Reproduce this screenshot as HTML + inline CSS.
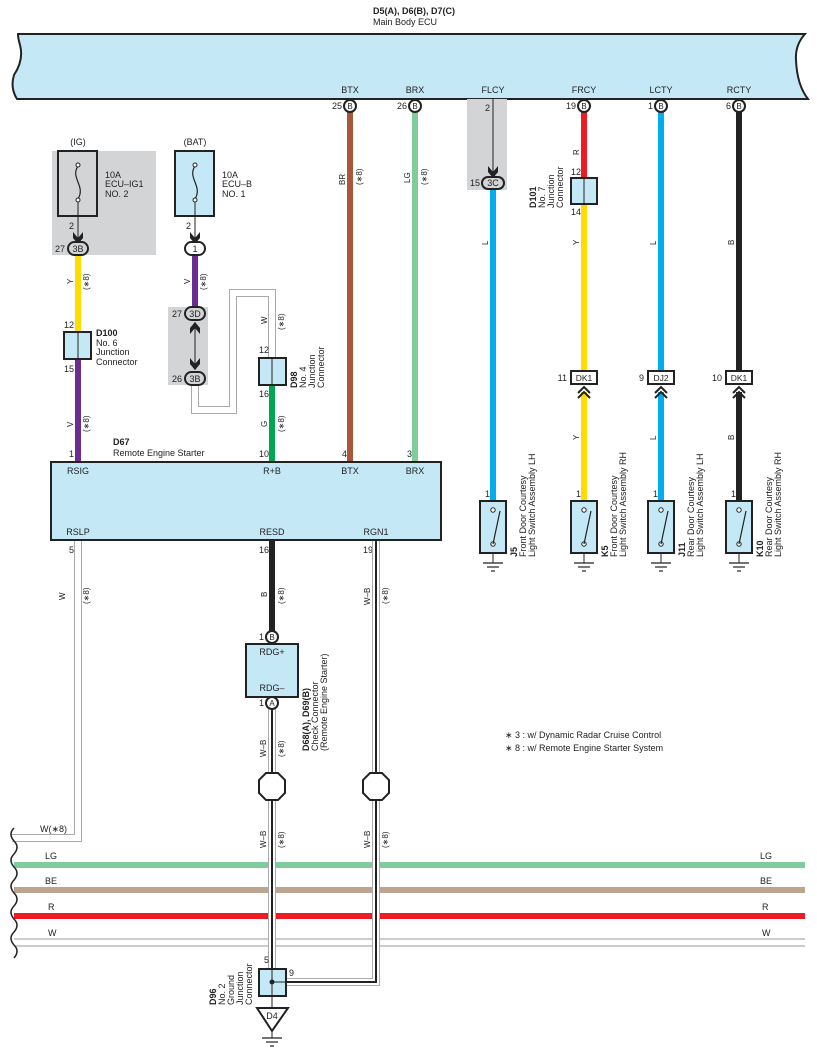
<!DOCTYPE html>
<html><head><meta charset="utf-8"><style>
html,body{margin:0;padding:0;background:#fff}
svg{display:block;font-family:"Liberation Sans",sans-serif}
text{font-size:9px;fill:#222}
.b{font-weight:bold}
</style></head><body>
<svg width="817" height="1061" viewBox="0 0 817 1061" xmlns="http://www.w3.org/2000/svg">
<defs>
<g id="gnd"><line x1="-10" y1="0" x2="10" y2="0" stroke="#222" stroke-width="1.2"/><line x1="-6" y1="4" x2="6" y2="4" stroke="#222" stroke-width="1.2"/><line x1="-2" y1="8" x2="2" y2="8" stroke="#222" stroke-width="1.2"/></g>
<g id="sw"><rect x="-13" y="0" width="26" height="52" fill="#c5e8f7" stroke="#222" stroke-width="2"/><circle cx="0" cy="9" r="2.2" fill="#fff" stroke="#222"/><circle cx="0" cy="43" r="2.2" fill="#fff" stroke="#222"/><line x1="0" y1="43" x2="7" y2="10" stroke="#222" stroke-width="1.2"/><line x1="0" y1="52" x2="0" y2="62" stroke="#222"/><use href="#gnd" y="62"/></g>
<g id="chev"><path d="M-6,6 L0,0 L6,6 M-6,11 L0,5 L6,11" fill="none" stroke="#222" stroke-width="2"/></g>
</defs>

<text x="373" y="14" class="b">D5(A), D6(B), D7(C)</text>
<text x="373" y="25">Main Body ECU</text>
<path d="M18,34 L805,34 Q795,45 796,60 Q797,85 808,99 L17,99 Q10,88 14,75 Q24,60 20,45 Q18,38 18,34 Z" fill="#c5e8f7" stroke="#222" stroke-width="2"/>
<g text-anchor="middle">
<text x="350" y="93">BTX</text><text x="415" y="93">BRX</text><text x="493" y="93">FLCY</text><text x="584" y="93">FRCY</text><text x="661" y="93">LCTY</text><text x="739" y="93">RCTY</text>
</g>

<rect x="52" y="151" width="104" height="104" fill="#d3d4d6"/>
<rect x="168" y="307" width="40" height="78" fill="#d3d4d6"/>
<rect x="467" y="99" width="40" height="91" fill="#d3d4d6"/>

<line x1="350" y1="106" x2="350" y2="462" stroke="#a9573a" stroke-width="6"/>
<line x1="415" y1="106" x2="415" y2="462" stroke="#80cc9c" stroke-width="6"/>
<line x1="493" y1="190" x2="493" y2="501" stroke="#00aeef" stroke-width="6"/>
<line x1="584" y1="106" x2="584" y2="178" stroke="#ed1c24" stroke-width="6"/>
<line x1="584" y1="204" x2="584" y2="371" stroke="#ffdd00" stroke-width="6"/>
<line x1="584" y1="392" x2="584" y2="501" stroke="#ffdd00" stroke-width="6"/>
<line x1="661" y1="106" x2="661" y2="371" stroke="#00aeef" stroke-width="6"/>
<line x1="661" y1="392" x2="661" y2="501" stroke="#00aeef" stroke-width="6"/>
<line x1="739" y1="106" x2="739" y2="371" stroke="#222" stroke-width="6"/>
<line x1="739" y1="392" x2="739" y2="501" stroke="#222" stroke-width="6"/>
<line x1="78" y1="255" x2="78" y2="332" stroke="#ffdd00" stroke-width="6"/>
<line x1="78" y1="359" x2="78" y2="462" stroke="#6d2c91" stroke-width="6"/>
<line x1="195" y1="255" x2="195" y2="307" stroke="#6d2c91" stroke-width="6"/>
<line x1="272" y1="385" x2="272" y2="462" stroke="#00a651" stroke-width="6"/>
<path d="M195,384 L195,410 L233,410 L233,293 L272,293 L272,358" fill="none" stroke="#aaa" stroke-width="8"/>
<path d="M195,384 L195,410 L233,410 L233,293 L272,293 L272,358" fill="none" stroke="#fff" stroke-width="6"/>

<g stroke="#222" stroke-width="2" fill="#fff">
<circle cx="350" cy="106" r="6"/><circle cx="415" cy="106" r="6"/><circle cx="584" cy="106" r="6"/><circle cx="661" cy="106" r="6"/><circle cx="739" cy="106" r="6"/>
</g>
<g text-anchor="middle">
<text x="350" y="109" style="font-size:8px">B</text><text x="415" y="109" style="font-size:8px">B</text><text x="584" y="109" style="font-size:8px">B</text><text x="661" y="109" style="font-size:8px">B</text><text x="739" y="109" style="font-size:8px">B</text>
</g>
<g text-anchor="end"><text x="342" y="109">25</text><text x="407" y="109">26</text><text x="576" y="109">19</text><text x="653" y="109">1</text><text x="731" y="109">6</text><text x="490" y="111">2</text></g>

<line x1="493" y1="99" x2="493" y2="172" stroke="#222"/>
<path d="M488,166 L493,172 L498,166 L498,172 L493,178 L488,172Z" fill="#222"/>
<rect x="482" y="177" width="22" height="12" rx="6" fill="#d3d4d6" stroke="#222" stroke-width="2"/>
<text x="493" y="186" text-anchor="middle">3C</text><text x="480" y="186" text-anchor="end">15</text>

<rect x="571" y="178" width="26" height="26" fill="#c5e8f7" stroke="#222" stroke-width="2"/><line x1="584" y1="178" x2="584" y2="204" stroke="#222"/>
<text x="581" y="175" text-anchor="end">12</text><text x="581" y="215" text-anchor="end">14</text>
<g transform="translate(536,208) rotate(-90)"><text x="0" y="0" class="b">D101</text><text x="0" y="9">No. 7</text><text x="0" y="18">Junction</text><text x="0" y="27">Connector</text></g>

<g stroke="#222" stroke-width="2" fill="#fff">
<rect x="571" y="371" width="26" height="13"/><rect x="648" y="371" width="26" height="13"/><rect x="726" y="371" width="26" height="13"/>
</g>
<g text-anchor="middle" style="font-size:8.5px"><text x="584" y="381" style="font-size:8.5px">DK1</text><text x="661" y="381" style="font-size:8.5px">DJ2</text><text x="739" y="381" style="font-size:8.5px">DK1</text></g>
<g text-anchor="end"><text x="567" y="381">11</text><text x="644" y="381">9</text><text x="722" y="381">10</text></g>
<use href="#chev" x="584" y="387"/><use href="#chev" x="661" y="387"/><use href="#chev" x="739" y="387"/>

<use href="#sw" x="493" y="501"/><use href="#sw" x="584" y="501"/><use href="#sw" x="661" y="501"/><use href="#sw" x="739" y="501"/>
<g text-anchor="end"><text x="490" y="497">1</text><text x="581" y="497">1</text><text x="658" y="497">1</text><text x="736" y="497">1</text></g>
<g transform="translate(517,557) rotate(-90)"><text class="b">J5</text><text y="9">Front Door Courtesy</text><text y="18">Light Switch Assembly LH</text></g>
<g transform="translate(608,557) rotate(-90)"><text class="b">K5</text><text y="9">Front Door Courtesy</text><text y="18">Light Switch Assembly RH</text></g>
<g transform="translate(685,557) rotate(-90)"><text class="b">J11</text><text y="9">Rear Door Courtesy</text><text y="18">Light Switch Assembly LH</text></g>
<g transform="translate(763,557) rotate(-90)"><text class="b">K10</text><text y="9">Rear Door Courtesy</text><text y="18">Light Switch Assembly RH</text></g>

<g>
<g transform="translate(345,185) rotate(-90)"><text style="font-size:8px">BR</text></g><g transform="translate(362,185) rotate(-90)"><text style="font-size:8px">(∗8)</text></g>
<g transform="translate(410,183) rotate(-90)"><text style="font-size:8px">LG</text></g><g transform="translate(427,185) rotate(-90)"><text style="font-size:8px">(∗8)</text></g>
<g transform="translate(488,245) rotate(-90)"><text style="font-size:8px">L</text></g>
<g transform="translate(579,155) rotate(-90)"><text style="font-size:8px">R</text></g>
<g transform="translate(579,245) rotate(-90)"><text style="font-size:8px">Y</text></g><g transform="translate(579,440) rotate(-90)"><text style="font-size:8px">Y</text></g>
<g transform="translate(656,245) rotate(-90)"><text style="font-size:8px">L</text></g><g transform="translate(656,440) rotate(-90)"><text style="font-size:8px">L</text></g>
<g transform="translate(734,245) rotate(-90)"><text style="font-size:8px">B</text></g><g transform="translate(734,440) rotate(-90)"><text style="font-size:8px">B</text></g>
<g transform="translate(73,284) rotate(-90)"><text style="font-size:8px">Y</text></g><g transform="translate(89,290) rotate(-90)"><text style="font-size:8px">(∗8)</text></g>
<g transform="translate(73,427) rotate(-90)"><text style="font-size:8px">V</text></g><g transform="translate(89,432) rotate(-90)"><text style="font-size:8px">(∗8)</text></g>
<g transform="translate(190,284) rotate(-90)"><text style="font-size:8px">V</text></g><g transform="translate(206,290) rotate(-90)"><text style="font-size:8px">(∗8)</text></g>
<g transform="translate(267,324) rotate(-90)"><text style="font-size:8px">W</text></g><g transform="translate(284,330) rotate(-90)"><text style="font-size:8px">(∗8)</text></g>
<g transform="translate(267,427) rotate(-90)"><text style="font-size:8px">G</text></g><g transform="translate(284,432) rotate(-90)"><text style="font-size:8px">(∗8)</text></g>
</g>

<rect x="58" y="151" width="39" height="65" fill="none" stroke="#222" stroke-width="2"/>
<rect x="175" y="151" width="39" height="65" fill="#c5e8f7" stroke="#222" stroke-width="2"/>
<path d="M78,166 C70,178 86,186 78,199" fill="none" stroke="#222" stroke-width="1.2"/>
<path d="M195,166 C187,178 203,186 195,199" fill="none" stroke="#222" stroke-width="1.2"/>
<circle cx="78" cy="165" r="2" fill="#fff" stroke="#222"/><circle cx="78" cy="200" r="2" fill="#fff" stroke="#222"/>
<circle cx="195" cy="165" r="2" fill="#fff" stroke="#222"/><circle cx="195" cy="200" r="2" fill="#fff" stroke="#222"/>
<line x1="78" y1="202" x2="78" y2="238" stroke="#222"/><line x1="195" y1="202" x2="195" y2="238" stroke="#222"/>
<path d="M73,232 L78,238 L83,232 L83,238 L78,244 L73,238Z" fill="#222"/><path d="M190,232 L195,238 L200,232 L200,238 L195,244 L190,238Z" fill="#222"/>
<text x="78" y="145" text-anchor="middle">(IG)</text><text x="195" y="145" text-anchor="middle">(BAT)</text>
<text x="105" y="178">10A</text><text x="105" y="187">ECU–IG1</text><text x="105" y="197">NO. 2</text>
<text x="222" y="178">10A</text><text x="222" y="187">ECU–B</text><text x="222" y="197">NO. 1</text>
<text x="74" y="229" text-anchor="end">2</text><text x="191" y="229" text-anchor="end">2</text>
<rect x="68" y="242" width="20" height="13" rx="6.5" fill="#d3d4d6" stroke="#222" stroke-width="2"/><text x="78" y="252" text-anchor="middle">3B</text><text x="65" y="252" text-anchor="end">27</text>
<rect x="185" y="242" width="20" height="13" rx="6.5" fill="#fff" stroke="#222" stroke-width="2"/><text x="195" y="252" text-anchor="middle">1</text>
<rect x="185" y="307" width="20" height="13" rx="6.5" fill="#d3d4d6" stroke="#222" stroke-width="2"/><text x="195" y="317" text-anchor="middle">3D</text><text x="182" y="317" text-anchor="end">27</text>
<rect x="185" y="372" width="20" height="13" rx="6.5" fill="#d3d4d6" stroke="#222" stroke-width="2"/><text x="195" y="382" text-anchor="middle">3B</text><text x="182" y="382" text-anchor="end">26</text>
<line x1="195" y1="322" x2="195" y2="370" stroke="#222"/>
<path d="M190,328 L195,322 L200,328 L200,334 L195,328 L190,334Z" fill="#222"/><path d="M190,358 L195,364 L200,358 L200,364 L195,370 L190,364Z" fill="#222"/>

<rect x="64" y="332" width="27" height="27" fill="#c5e8f7" stroke="#222" stroke-width="2"/><line x1="78" y1="332" x2="78" y2="359" stroke="#222"/>
<text x="74" y="328" text-anchor="end">12</text><text x="74" y="372" text-anchor="end">15</text>
<text x="96" y="336" class="b">D100</text><text x="96" y="346">No.  6</text><text x="96" y="355">Junction</text><text x="96" y="365">Connector</text>
<rect x="259" y="358" width="27" height="27" fill="#c5e8f7" stroke="#222" stroke-width="2"/><line x1="272" y1="358" x2="272" y2="385" stroke="#222"/>
<text x="269" y="353" text-anchor="end">12</text><text x="269" y="397" text-anchor="end">16</text>
<g transform="translate(297,388) rotate(-90)"><text class="b">D98</text><text y="9">No.  4</text><text y="18">Junction</text><text y="27">Connector</text></g>

<text x="113" y="445" class="b">D67</text><text x="113" y="456">Remote Engine Starter</text>
<g text-anchor="end"><text x="74" y="457">1</text><text x="269" y="457">10</text><text x="347" y="457">4</text><text x="412" y="457">3</text></g>
<rect x="51" y="462" width="390" height="78" fill="#c5e8f7" stroke="#222" stroke-width="2"/>
<g text-anchor="middle"><text x="78" y="474">RSIG</text><text x="272" y="474">R+B</text><text x="350" y="474">BTX</text><text x="415" y="474">BRX</text>
<text x="78" y="535">RSLP</text><text x="272" y="535">RESD</text><text x="376" y="535">RGN1</text></g>
<g text-anchor="end"><text x="74" y="553">5</text><text x="269" y="553">16</text><text x="373" y="553">19</text></g>

<path d="M78,541 L78,838 L12,838" fill="none" stroke="#aaa" stroke-width="8"/>
<path d="M78,541 L78,838 L12,838" fill="none" stroke="#fff" stroke-width="6"/>
<text x="40" y="832">W(∗8)</text>
<line x1="272" y1="541" x2="272" y2="632" stroke="#222" stroke-width="6"/>

<line x1="14" y1="865" x2="805" y2="865" stroke="#80cc9c" stroke-width="6"/>
<line x1="14" y1="890" x2="805" y2="890" stroke="#bba58f" stroke-width="6"/>
<line x1="14" y1="916" x2="805" y2="916" stroke="#ed1c24" stroke-width="6"/>
<line x1="14" y1="939" x2="805" y2="939" stroke="#999" stroke-width="1"/>
<line x1="14" y1="946" x2="805" y2="946" stroke="#999" stroke-width="1"/>
<text x="45" y="859">LG</text><text x="45" y="884">BE</text><text x="48" y="910">R</text><text x="48" y="936">W</text>
<text x="760" y="859">LG</text><text x="760" y="884">BE</text><text x="762" y="910">R</text><text x="762" y="936">W</text>
<path d="M14,828 q-6,6 0,13 q6,6 0,13 q-6,6 0,13 q6,6 0,13 q-6,6 0,13 q6,6 0,13 q-6,6 0,13 q6,6 0,13 q-6,6 0,13 q6,6 0,13" fill="none" stroke="#222" stroke-width="1.5"/>

<g fill="none">
<path d="M272,703 L272,982" stroke="#aaa" stroke-width="8"/><path d="M272,703 L272,982" stroke="#fff" stroke-width="6"/><path d="M272,703 L272,982" stroke="#222" stroke-width="2"/>
<path d="M376,541 L376,982 L286,982" stroke="#aaa" stroke-width="8"/><path d="M376,541 L376,982 L286,982" stroke="#fff" stroke-width="6"/><path d="M376,541 L376,982 L286,982" stroke="#222" stroke-width="2"/>
</g>
<g stroke="#222" stroke-width="2" fill="#fff">
<polygon points="266,773 278,773 285,780 285,793 278,800 266,800 259,793 259,780"/>
<polygon points="370,773 382,773 389,780 389,793 382,800 370,800 363,793 363,780"/>
</g>
<g>
<g transform="translate(65,600) rotate(-90)"><text style="font-size:8px">W</text></g><g transform="translate(89,604) rotate(-90)"><text style="font-size:8px">(∗8)</text></g>
<g transform="translate(267,597) rotate(-90)"><text style="font-size:8px">B</text></g><g transform="translate(284,604) rotate(-90)"><text style="font-size:8px">(∗8)</text></g>
<g transform="translate(370,605) rotate(-90)"><text style="font-size:8px">W–B</text></g><g transform="translate(388,604) rotate(-90)"><text style="font-size:8px">(∗8)</text></g>
<g transform="translate(266,757) rotate(-90)"><text style="font-size:8px">W–B</text></g><g transform="translate(284,757) rotate(-90)"><text style="font-size:8px">(∗8)</text></g>
<g transform="translate(266,848) rotate(-90)"><text style="font-size:8px">W–B</text></g><g transform="translate(284,848) rotate(-90)"><text style="font-size:8px">(∗8)</text></g>
<g transform="translate(370,848) rotate(-90)"><text style="font-size:8px">W–B</text></g><g transform="translate(388,848) rotate(-90)"><text style="font-size:8px">(∗8)</text></g>
</g>

<rect x="246" y="644" width="52" height="53" fill="#c5e8f7" stroke="#222" stroke-width="2"/>
<circle cx="272" cy="637" r="6" fill="#fff" stroke="#222" stroke-width="2"/><text x="272" y="640" text-anchor="middle" style="font-size:8px">B</text>
<circle cx="272" cy="703" r="6" fill="#fff" stroke="#222" stroke-width="2"/><text x="272" y="706" text-anchor="middle" style="font-size:8px">A</text>
<text x="264" y="640" text-anchor="end">1</text><text x="264" y="706" text-anchor="end">1</text>
<text x="272" y="655" text-anchor="middle">RDG+</text><text x="272" y="691" text-anchor="middle">RDG–</text>
<g transform="translate(309,751) rotate(-90)"><text class="b">D68(A), D69(B)</text><text y="9">Check Connector</text><text y="18">(Remote Engine Starter)</text></g>

<rect x="259" y="969" width="27" height="27" fill="#c5e8f7" stroke="#222" stroke-width="2"/>
<line x1="272" y1="969" x2="272" y2="1008" stroke="#222"/><line x1="272" y1="982" x2="286" y2="982" stroke="#222"/>
<circle cx="272" cy="982" r="2.5" fill="#222"/>
<text x="269" y="963" text-anchor="end">5</text><text x="289" y="976">9</text>
<polygon points="257,1008 288,1008 272,1031" fill="#fff" stroke="#222" stroke-width="2"/>
<text x="272" y="1019" text-anchor="middle">D4</text>
<line x1="272" y1="1031" x2="272" y2="1038" stroke="#222"/><use href="#gnd" x="272" y="1038"/>
<g transform="translate(216,1005) rotate(-90)"><text class="b">D96</text><text y="9">No.  2</text><text y="18">Ground</text><text y="27">Junction</text><text y="36">Connector</text></g>

<text x="505" y="738">∗ 3 : w/ Dynamic Radar Cruise Control</text>
<text x="505" y="751">∗ 8 : w/ Remote Engine Starter System</text>
</svg>
</body></html>
